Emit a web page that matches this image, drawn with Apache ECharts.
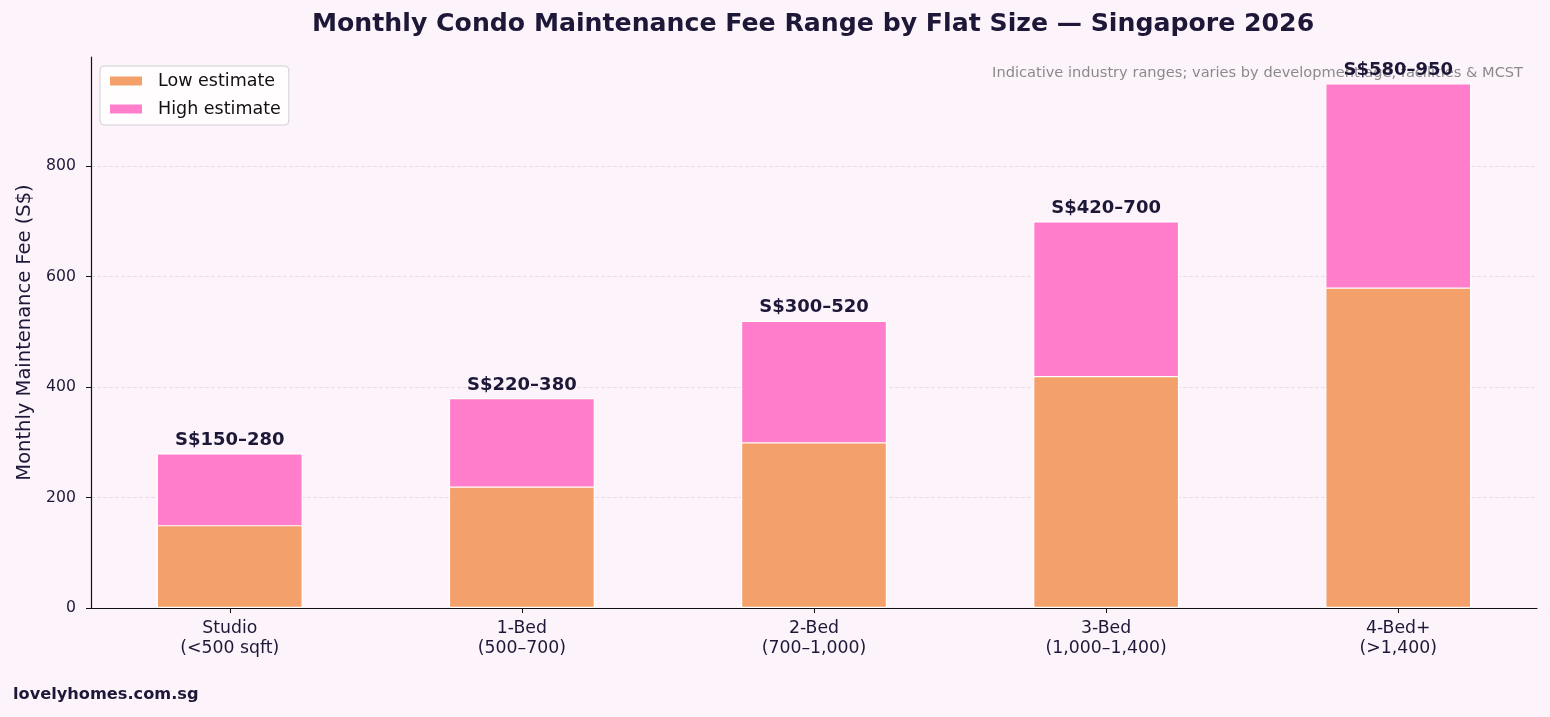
<!DOCTYPE html>
<html>
<head>
<meta charset="utf-8">
<script src="https://cdn.jsdelivr.net/npm/echarts@6/dist/echarts.min.js"></script>
<style>
html,body{margin:0;padding:0;background:#fdf4fb;}
#c{width:1550px;height:717px;}
</style>
</head>
<body>
<div id="c"></div>
<script>
var categories = ['Studio\n(<500 sqft)', '1-Bed\n(500–700)', '2-Bed\n(700–1,000)', '3-Bed\n(1,000–1,400)', '4-Bed+\n(>1,400)'];
var lowEstimate = [150, 220, 300, 420, 580];
var highEstimate = [280, 380, 520, 700, 950];
var yTicks = [0, 200, 400, 600, 800];

var chart = echarts.init(document.getElementById('c'));
var font = 'DejaVu Sans';
var dark = '#1e1838';
var lowData = lowEstimate.map(function (v, i) { return [i, v]; });
var highData = highEstimate.map(function (v, i) { return [i, v]; });
var catIdx = categories.map(function (c, i) { return i; });

chart.setOption({
  backgroundColor: '#fdf4fb',
  textStyle: { fontFamily: font },
  title: [{
    text: 'Monthly Condo Maintenance Fee Range by Flat Size — Singapore 2026',
    left: 307, top: 7,
    textStyle: { fontFamily: font, fontSize: 25.2, fontWeight: 'bold', color: dark }
  }],
  graphic: [
    { type: 'text', right: 27, top: 66, style: { text: 'Indicative industry ranges; varies by development age, facilities & MCST', font: '14.6px "DejaVu Sans"', fill: '#8a8a8a' }, z: 1 },
    { type: 'text', left: 13, top: 687, style: { text: 'lovelyhomes.com.sg', font: 'bold 16.2px "DejaVu Sans"', fill: dark } }
  ],
  legend: {
    orient: 'vertical', left: 100, top: 66,
    data: ['Low estimate', 'High estimate'],
    itemWidth: 34, itemHeight: 11, itemGap: 10,
    backgroundColor: 'rgba(255,255,255,0.8)', borderColor: '#d0d0d0', borderWidth: 1, borderRadius: 4,
    padding: [6, 8, 7, 8],
    icon: 'rect',
    textStyle: { fontFamily: font, fontSize: 17.5, color: '#111', padding: [0, 0, 0, 10] }
  },
  grid: { left: 91, right: 13, top: 57, bottom: 109, containLabel: false },
  xAxis: {
    type: 'value', min: -0.475, max: 4.475,
    axisLine: { show: true, onZero: false, lineStyle: { color: '#111', width: 1.2 } },
    axisTick: { show: true, customValues: catIdx, length: 5, lineStyle: { color: '#111' } },
    axisLabel: {
      customValues: catIdx,
      formatter: function (v) { return categories[Math.round(v)]; },
      fontFamily: font, fontSize: 17.3, lineHeight: 20, color: dark, margin: 11
    },
    splitLine: { show: false }
  },
  yAxis: {
    type: 'value', min: 0, max: 997.5,
    name: 'Monthly Maintenance Fee (S$)', nameLocation: 'middle', nameGap: 52,
    nameTextStyle: { fontFamily: font, fontSize: 19.5, color: dark },
    axisLine: { show: true, onZero: false, lineStyle: { color: '#111', width: 1.2 } },
    axisTick: { show: true, customValues: yTicks, length: 5, lineStyle: { color: '#111' } },
    axisLabel: { customValues: yTicks, fontFamily: font, fontSize: 15.7, color: dark, margin: 15 },
    splitLine: { show: true, lineStyle: { type: [4, 2], width: 0.8, color: ['#e2d6e2', '#e2d6e2', '#e2d6e2', '#e2d6e2', '#e2d6e2', 'rgba(0,0,0,0)'] } }
  },
  series: [
    {
      name: 'High estimate', type: 'bar', barWidth: 146, barGap: '-100%',
      itemStyle: { color: '#ff7dca', borderColor: '#ffffff', borderWidth: 1.2 },
      label: {
        show: true, position: 'top', distance: 4,
        fontFamily: font, fontSize: 18, fontWeight: 'bold', color: dark,
        formatter: function (p) { return 'S$' + lowEstimate[p.dataIndex] + '–' + highEstimate[p.dataIndex]; }
      },
      data: highData
    },
    {
      name: 'Low estimate', type: 'bar', barWidth: 146, barGap: '-100%',
      itemStyle: { color: '#f3a06b', borderColor: '#ffffff', borderWidth: 1.2 },
      data: lowData
    }
  ]
});
</script>
</body>
</html>
